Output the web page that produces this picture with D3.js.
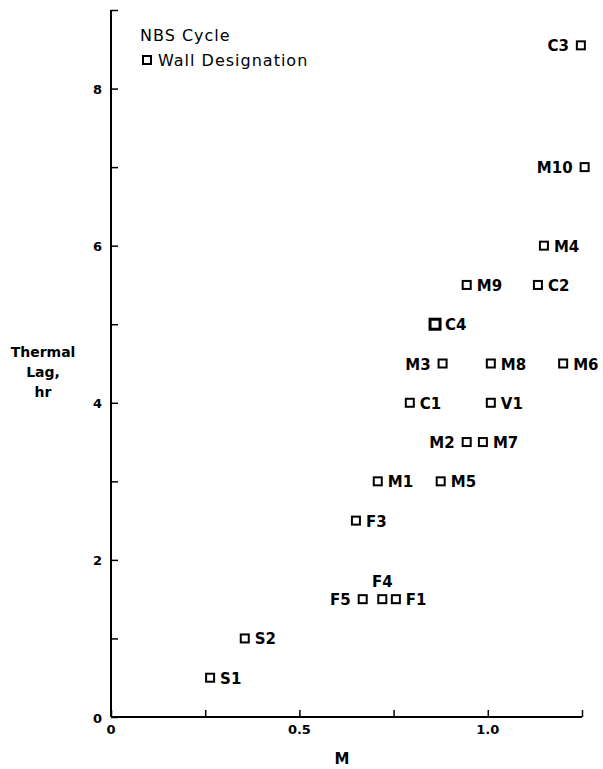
<!DOCTYPE html>
<html>
<head>
<meta charset="utf-8">
<script src="https://cdn.jsdelivr.net/npm/d3@7"></script>
<style>
  body { margin: 0; background: #fff; }
  svg text { font-family: "DejaVu Sans", sans-serif; fill: #000; }
  .tick-label { font-size: 13px; font-weight: bold; }
  .pt-label { font-size: 15px; font-weight: bold; }
  .legend { font-size: 16px; letter-spacing: 1px; }
</style>
</head>
<body>
<div class="chart"></div>
<script>
// wall designations, M value and thermal lag (hr)
var walls = ['C3', 'M10', 'M4', 'M9', 'C2', 'C4', 'M3', 'M8', 'M6', 'C1', 'V1',
             'M2', 'M7', 'M1', 'M5', 'F3', 'F5', 'F4', 'F1', 'S2', 'S1'];
var mValues = [1.247, 1.257, 1.149, 0.944, 1.133, 0.86, 0.88, 1.008, 1.2, 0.793, 1.008,
               0.944, 0.987, 0.708, 0.875, 0.65, 0.668, 0.72, 0.756, 0.355, 0.263];
var lagValues = [8.55, 7.0, 6.0, 5.5, 5.5, 5.0, 4.5, 4.5, 4.5, 4.0, 4.0,
                 3.5, 3.5, 3.0, 3.0, 2.5, 1.5, 1.5, 1.5, 1.0, 0.5];
var xTickLabels = ['0', '0.5', '1.0'];
var yTickLabels = ['0', '2', '4', '6', '8'];

// where each label sits relative to its square
var labelSide = {C3: 'l', M10: 'l', M3: 'l', M2: 'l', F5: 'l', F4: 't'};

var width = 603, height = 769;

var svg = d3.select('.chart').append('svg')
    .attr('width', width)
    .attr('height', height);

var x = d3.scaleLinear().domain([0, 1.25]).range([111, 582]);
var y = d3.scaleLinear().domain([0, 9]).range([717, 10]);

// axes, ticks pointing inward
var xAxis = d3.axisTop(x)
    .tickValues([0, 0.25, 0.5, 0.75, 1.0, 1.25])
    .tickSize(7)
    .tickFormat('');
svg.append('g')
    .attr('transform', 'translate(0,' + y(0) + ')')
    .call(xAxis)
    .call(function(g) {
        g.select('.domain').attr('stroke-width', 2).attr('d', 'M' + x(0) + ',0H' + x(1.25));
        g.selectAll('.tick line').attr('stroke-width', 1.5);
    });

var yAxis = d3.axisRight(y)
    .tickValues(d3.range(0, 10))
    .tickSize(7)
    .tickFormat('');
svg.append('g')
    .attr('transform', 'translate(' + x(0) + ',0)')
    .call(yAxis)
    .call(function(g) {
        g.select('.domain').attr('stroke-width', 2).attr('d', 'M0,' + y(0) + 'V' + y(9));
        g.selectAll('.tick line').attr('stroke-width', 1.5);
    });

// tick labels
svg.selectAll('.xlab').data(xTickLabels).enter().append('text')
    .attr('class', 'tick-label')
    .attr('x', function(d) { return x(+d); })
    .attr('y', y(0) + 17)
    .attr('text-anchor', 'middle')
    .text(function(d) { return d; });

svg.selectAll('.ylab').data(yTickLabels).enter().append('text')
    .attr('class', 'tick-label')
    .attr('x', x(0) - 9)
    .attr('y', function(d) { return y(+d) + (d == '0' ? 6 : 5); })
    .attr('text-anchor', 'end')
    .text(function(d) { return d; });

// axis titles
svg.append('text')
    .attr('x', 342).attr('y', 764)
    .attr('text-anchor', 'middle')
    .style('font-size', '15px').style('font-weight', 'bold')
    .text('M');

var ytitle = svg.append('text')
    .attr('text-anchor', 'middle')
    .style('font-size', '14px').style('font-weight', 'bold');
['Thermal', 'Lag,', 'hr'].forEach(function(t, i) {
    ytitle.append('tspan').attr('x', 43).attr('y', 357 + i * 20).text(t);
});

// legend
svg.append('text')
    .attr('class', 'legend')
    .attr('x', 140).attr('y', 41)
    .text('NBS Cycle');
svg.append('rect')
    .attr('x', 143).attr('y', 56).attr('width', 8).attr('height', 8)
    .attr('fill', 'none').attr('stroke', '#000').attr('stroke-width', 2);
svg.append('text')
    .attr('class', 'legend')
    .attr('x', 158).attr('y', 66)
    .text('Wall Designation');

// points
var pts = walls.map(function(w, i) {
    return {name: w, m: mValues[i], lag: lagValues[i]};
});

var g = svg.append('g').attr('class', 'points');
var p = g.selectAll('g').data(pts).enter().append('g')
    .attr('transform', function(d) { return 'translate(' + x(d.m) + ',' + y(d.lag) + ')'; });

p.append('rect')
    .attr('x', function(d) { return d.name == 'C4' ? -5 : -4; })
    .attr('y', function(d) { return d.name == 'C4' ? -5 : -4; })
    .attr('width', function(d) { return d.name == 'C4' ? 10 : 8; })
    .attr('height', function(d) { return d.name == 'C4' ? 10 : 8; })
    .attr('fill', 'none')
    .attr('stroke', '#000')
    .attr('stroke-width', function(d) { return d.name == 'C4' ? 3 : 2; });

p.append('text')
    .attr('class', 'pt-label')
    .attr('x', function(d) {
        var s = labelSide[d.name];
        if (s == 'l') return -12;
        if (s == 't') return 0;
        return 10;
    })
    .attr('y', function(d) { return labelSide[d.name] == 't' ? -12 : 6; })
    .attr('text-anchor', function(d) {
        var s = labelSide[d.name];
        return s == 'l' ? 'end' : (s == 't' ? 'middle' : 'start');
    })
    .text(function(d) { return d.name; });
</script>
</body>
</html>
